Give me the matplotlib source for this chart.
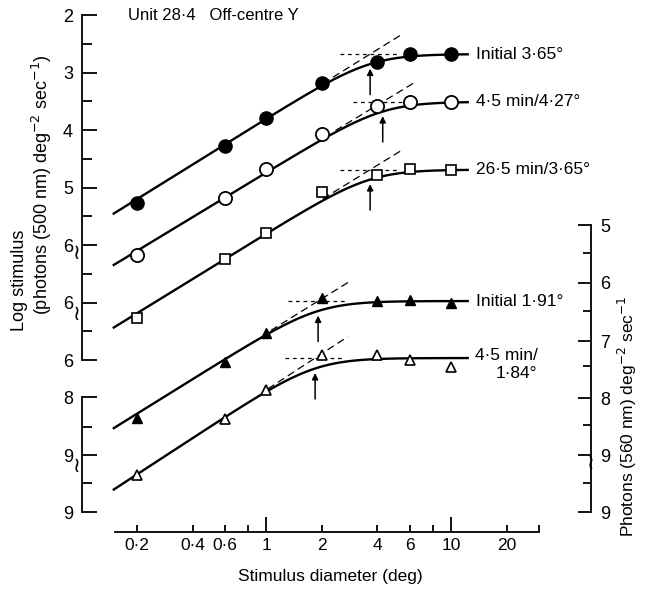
import numpy as np
import matplotlib
matplotlib.use("Agg")
import matplotlib.pyplot as plt
import matplotlib.transforms as mtransforms
from matplotlib.ticker import FixedLocator, FixedFormatter

plt.rcParams['font.family'] = ['Liberation Sans', 'DejaVu Sans']

# stimulus diameters (deg)
diam = [0.2, 0.6, 1, 2, 4, 6, 10]

# threshold values in plot units of the (broken) left scale
initial_365 = [5.27, 4.28, 3.79, 3.18, 2.82, 2.68, 2.68]
min45_427 = [6.17, 5.18, 4.68, 4.07, 3.58, 3.51, 3.51]
min265_365 = [7.27, 6.24, 5.79, 5.08, 4.78, 4.68, 4.70]
initial_191 = [9.01, 8.03, 7.53, 6.92, 6.97, 6.96, 7.01]
min45_184 = [10.0, 9.03, 8.52, 7.91, 7.91, 8.0, 8.12]

# fitted curves: plateau level, critical diameter, summation slope
plateau = [2.68, 3.51, 4.69, 6.974, 7.965]
crit_diam = [3.65, 4.27, 3.65, 1.91, 1.84]
slope = [2.0, 1.95, 1.98, 2.0, 2.1]
curve_labels = ['Initial 3·65°', '4·5 min/4·27°', '26·5 min/3·65°',
                'Initial 1·91°', '4·5 min/\n1·84°']

# left axis (broken) ticks
left_ticks = [2, 3, 4, 5, 6, 7, 8, 8.643, 9.652, 10.643]
left_labels = ['2', '3', '4', '5', '6', '6', '6', '8', '9', '9']
left_minor = [2.5, 3.5, 4.5, 5.5, 6.5, 7.5, 9.165, 10.14]
# right axis ticks
right_ticks = [5.652, 6.66, 7.67, 8.66, 9.652, 10.643]
right_labels = ['5', '6', '7', '8', '9', '9']
right_minor = [6.14, 7.15, 8.10, 9.13, 10.14]
# x ticks
x_major = [1, 10]
x_major_labels = ['1', '10']
x_minor = [0.2, 0.4, 0.6, 0.8, 2, 4, 6, 8, 20, 30]
x_minor_labels = ['0·2', '0·4', '0·6', '', '2', '4', '6', '', '20', '']


def fit_curve(d, P, dc, s, k=8.0):
    L = np.log10(d)
    L0 = np.log10(dc)
    return P + s / k * np.log1p(np.exp(k * (L0 - L)))


W, H = 645, 591
fig = plt.figure(figsize=(W / 100, H / 100), dpi=100)
ax = fig.add_axes([82 / W, 1 - 532 / H, (591 - 82) / W, (532 - 15) / H])
ax.set_xscale('log')
ax.set_xlim(0.101, 57.1)
ax.set_ylim(10.99, 2)

series = [initial_365, min45_427, min265_365, initial_191, min45_184]
styles = [dict(marker='o', ms=9.5, mfc='k', mec='k'),
          dict(marker='o', ms=9.5, mfc='white', mec='k', mew=1.3),
          dict(marker='s', ms=6.5, mfc='white', mec='k', mew=1.2),
          dict(marker='^', ms=7.5, mfc='k', mec='k'),
          dict(marker='^', ms=7.5, mfc='white', mec='k', mew=1.2)]

xs = np.logspace(np.log10(0.15), np.log10(12.3), 300)
for vals, st, P, dc, s, lab in zip(series, styles, plateau, crit_diam, slope, curve_labels):
    ax.plot(xs, fit_curve(xs, P, dc, s), color='k', lw=1.7, zorder=2)
    # tangent asymptotes
    xt = np.array([dc / 1.8, dc * 1.5])
    ax.plot(xt, P + s * (np.log10(dc) - np.log10(xt)), color='k', lw=0.9,
            dashes=(6, 3.5), zorder=1)
    ax.plot([dc / 1.45, dc * 1.45], [P, P], color='k', lw=0.9,
            dashes=(3, 3), zorder=1)
    ax.plot(diam, vals, ls='none', zorder=3, **st)
    tip = fit_curve(dc, P, dc, s) + 0.08
    ax.annotate('', xy=(dc, tip), xytext=(dc, tip + 0.45),
                arrowprops=dict(arrowstyle='-|>', lw=1.1, color='k',
                                mutation_scale=9, shrinkA=0, shrinkB=0))
    if '\n' in lab:
        ax.annotate(lab, xy=(12.3, P), xytext=(5, 7), textcoords='offset points',
                    ha='left', va='top', multialignment='right', fontsize=12.5,
                    linespacing=1.2)
    else:
        ax.annotate(lab, xy=(12.3, P), xytext=(6, 0), textcoords='offset points',
                    ha='left', va='center', fontsize=12.5)

# spines
ax.spines['top'].set_visible(False)
ax.spines['right'].set_visible(False)
ax.spines['left'].set_bounds(2, 8)
ax.spines['bottom'].set_bounds(0.153, 30)
for sp in ax.spines.values():
    sp.set_linewidth(1.3)
trans = mtransforms.blended_transform_factory(ax.transAxes, ax.transData)
ax.plot([0, 0], [8.643, 10.643], transform=trans, color='k', lw=1.3, clip_on=False)

ax.yaxis.set_major_locator(FixedLocator(left_ticks))
ax.yaxis.set_major_formatter(FixedFormatter(left_labels))
ax.yaxis.set_minor_locator(FixedLocator(left_minor))
ax.tick_params(axis='y', which='major', direction='in', length=10.8, width=1.3,
               pad=6.5, labelsize=13)
ax.tick_params(axis='y', which='minor', direction='in', length=7, width=1.3)

ax.xaxis.set_major_locator(FixedLocator(x_major))
ax.xaxis.set_major_formatter(FixedFormatter(x_major_labels))
ax.xaxis.set_minor_locator(FixedLocator(x_minor))
ax.xaxis.set_minor_formatter(FixedFormatter(x_minor_labels))
ax.tick_params(axis='x', which='major', direction='in', length=11, width=1.3,
               pad=4.5, labelsize=12.5)
ax.tick_params(axis='x', which='minor', direction='in', length=5, width=1.3,
               pad=4.5, labelsize=12.5)

ax2 = ax.twinx()
ax2.set_ylim(ax.get_ylim())
for side in ['top', 'left', 'bottom']:
    ax2.spines[side].set_visible(False)
ax2.spines['right'].set_bounds(5.652, 10.643)
ax2.spines['right'].set_linewidth(1.3)
ax2.yaxis.set_major_locator(FixedLocator(right_ticks))
ax2.yaxis.set_major_formatter(FixedFormatter(right_labels))
ax2.yaxis.set_minor_locator(FixedLocator(right_minor))
ax2.tick_params(axis='y', which='major', direction='in', length=9.4, width=1.3,
                pad=6.5, labelsize=13)
ax2.tick_params(axis='y', which='minor', direction='in', length=5.8, width=1.3)

# axis breaks
for v in [6.14, 7.2, 9.84]:
    ax.text(-0.01, v, '≀', transform=trans, ha='center', va='center',
            fontsize=15, family='DejaVu Sans', clip_on=False)
trans2 = mtransforms.blended_transform_factory(ax2.transAxes, ax2.transData)
ax2.text(1.0, 9.79, '≀', transform=trans2, ha='center', va='center',
         fontsize=15, family='DejaVu Sans', clip_on=False)

# labels
fig.text(128 / W, 1 - 16 / H, 'Unit 28·4   Off-centre Y', ha='left', va='center',
         fontsize=12)
fig.text(330 / W, 1 - 577 / H, 'Stimulus diameter (deg)', ha='center',
         va='center', fontsize=12.5)
fig.text(20 / W, 1 - 280 / H, 'Log stimulus', rotation=90, ha='center',
         va='center', fontsize=13)
fig.text(42 / W, 1 - 185 / H, r'(photons (500 nm) deg$^{-2}$ sec$^{-1}$)',
         rotation=90, ha='center', va='center', fontsize=13)
fig.text(616 / W, 1 - 416 / H, r'Photons (560 nm) deg$^{-2}$ sec$^{-1}$',
         rotation=90, ha='left', va='center', fontsize=12.5)

fig.savefig('out.png', dpi=100)
